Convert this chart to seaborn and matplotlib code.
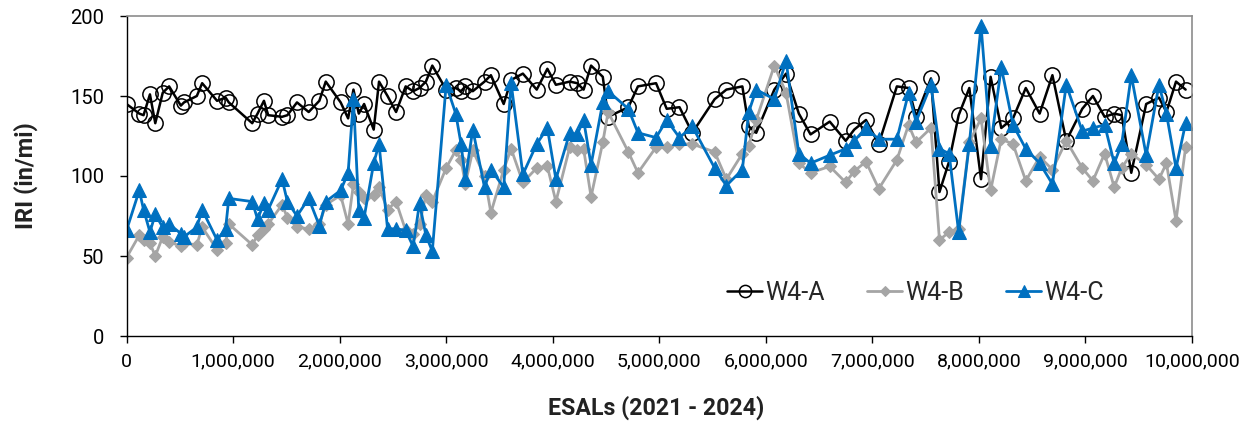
import numpy as np
import pandas as pd
import matplotlib
matplotlib.use("Agg")
import matplotlib.pyplot as plt
from matplotlib.ticker import FuncFormatter, MultipleLocator
import seaborn as sns

# ESALs in millions (survey points)
esals_m = [0, 0.12, 0.16, 0.22, 0.27, 0.34, 0.40, 0.51, 0.54, 0.66, 0.71, 0.85, 0.93, 0.96,
           1.18, 1.23, 1.29, 1.33, 1.46, 1.51,
           1.60, 1.71, 1.81, 1.87, 2.01, 2.08, 2.13, 2.18, 2.23, 2.32, 2.37, 2.45, 2.53, 2.62,
           2.69, 2.75, 2.81, 2.87, 3.00, 3.09, 3.14, 3.18,
           3.25, 3.36, 3.42, 3.54, 3.61, 3.72, 3.85, 3.95, 4.03, 4.16, 4.23, 4.29, 4.36, 4.47,
           4.52, 4.71, 4.80,
           4.97, 5.07, 5.19, 5.31, 5.52, 5.63, 5.78, 5.84, 5.91, 6.08, 6.19, 6.31, 6.42, 6.60,
           6.75, 6.83, 6.94, 7.06, 7.23, 7.34, 7.41, 7.55, 7.63, 7.72, 7.81, 7.91, 8.02, 8.11, 8.21,
           8.32, 8.44, 8.57, 8.69, 8.82, 8.97, 9.07, 9.18, 9.27, 9.34, 9.43, 9.57, 9.69, 9.76,
           9.85, 9.94]

w4_a = [145, 139, 138, 151, 133, 152, 156, 144, 146, 150, 158, 147, 149, 146,
        133, 139, 147, 138, 137, 138,
        146, 140, 147, 159, 146, 136, 154, 139, 145, 129, 159, 150, 140, 156,
        153, 155, 159, 169, 154, 155, 153, 156,
        153, 159, 163, 145, 160, 164, 154, 167, 157, 159, 158, 154, 169, 162,
        137, 143, 156,
        158, 142, 143, 127, 148, 154, 156, 131, 127, 154, 164, 139, 126, 134,
        122, 129, 135, 120, 156, 155, 137, 161, 90, 109, 138, 155, 98, 162, 130,
        136, 155, 139, 163, 122, 142, 150, 137, 139, 138, 102, 145, 149, 140,
        159, 154]

w4_b = [49, 63, 60, 58, 50, 62, 59, 56, 58, 57, 68, 54, 58, 70,
        57, 63, 67, 70, 82, 74,
        68, 67, 70, 82, 88, 70, 95, 90, 86, 88, 93, 79, 84, 66,
        64, 70, 88, 84, 105, 116, 110, 95,
        116, 100, 77, 104, 117, 96, 105, 106, 84, 118, 116, 117, 87, 121,
        140, 115, 102,
        118, 118, 120, 120, 115, 98, 114, 119, 135, 169, 152, 108, 102, 106,
        96, 103, 109, 92, 110, 132, 121, 130, 60, 65, 67, 121, 136, 91, 123,
        120, 97, 112, 104, 122, 105, 97, 114, 93, 105, 114, 107, 98, 108,
        72, 118]

w4_c = [66, 91, 79, 65, 76, 68, 70, 64, 62, 68, 79, 60, 67, 86,
        84, 73, 83, 79, 98, 84,
        75, 86, 69, 84, 91, 102, 148, 79, 74, 108, 120, 67, 67, 66,
        56, 83, 63, 53, 157, 139, 120, 98,
        129, 93, 104, 93, 158, 101, 120, 130, 98, 127, 126, 135, 107, 146,
        153, 142, 127,
        124, 135, 124, 131, 105, 94, 104, 140, 154, 148, 172, 114, 108, 113,
        117, 122, 130, 123, 123, 152, 134, 157, 117, 114, 65, 120, 194, 119, 168,
        132, 117, 108, 95, 157, 128, 130, 132, 108, 120, 163, 113, 157, 139,
        105, 133]

series_names = ["W4-A", "W4-B", "W4-C"]
y_ticks = [0, 50, 100, 150, 200]
x_label = "ESALs (2021 - 2024)"
y_label = "IRI (in/mi)"

esals = np.array(esals_m) * 1_000_000

sns.set_theme(style="white")
plt.rcParams["font.family"] = ["Roboto", "DejaVu Sans"]

fig = plt.figure(figsize=(12.5, 4.25), dpi=100)
ax = fig.add_axes([126.5 / 1250, 1 - 336 / 425, (1192 - 126.5) / 1250, (336 - 16) / 425])

styles = {
    "W4-A": dict(color="black", marker="o", markersize=11, markerfacecolor="none",
                 markeredgecolor="black", markeredgewidth=1.1, linewidth=1.8),
    "W4-B": dict(color="#A5A5A5", marker="D", markersize=6.5, markerfacecolor="#A5A5A5",
                 markeredgecolor="#A5A5A5", linewidth=2.0),
    "W4-C": dict(color="#0070C0", marker="^", markersize=10, markerfacecolor="#0070C0",
                 markeredgecolor="#0070C0", linewidth=2.0),
}
values = {"W4-A": w4_a, "W4-B": w4_b, "W4-C": w4_c}

for name in series_names:
    sns.lineplot(x=esals, y=values[name], ax=ax, sort=False, estimator=None,
                 label=name, **styles[name])

ax.set_xlim(0, 10_000_000)
ax.set_ylim(0, 200)
ax.xaxis.set_major_locator(MultipleLocator(1_000_000))
ax.xaxis.set_major_formatter(FuncFormatter(lambda v, p: f"{v:,.0f}"))
ax.set_yticks(y_ticks)

for side in ["top", "right"]:
    ax.spines[side].set_color("#8C8C8C")
    ax.spines[side].set_linewidth(1.2)
for side in ["left", "bottom"]:
    ax.spines[side].set_color("black")
    ax.spines[side].set_linewidth(1.0)

ax.tick_params(axis="x", which="major", direction="out", length=5, width=1,
               color="black", bottom=True, labelsize=14, pad=7, labelcolor="black")
ax.tick_params(axis="y", which="major", direction="out", length=5, width=1,
               color="black", left=True, labelsize=14.5, pad=11, labelcolor="black")

ax.set_xlabel(x_label, fontsize=16.7, fontweight="bold", color="#222222")
ax.set_ylabel(y_label, fontsize=17, fontweight="bold", color="#222222")
ax.xaxis.set_label_coords(0.4972, -0.185)
ax.yaxis.set_label_coords(-0.083, 0.5)

leg = ax.legend(loc="center left", bbox_to_anchor=(727 / 1250, 1 - 293 / 425),
                bbox_transform=fig.transFigure, ncol=3, frameon=False, fontsize=18,
                handlelength=1.4, handletextpad=0.12, columnspacing=1.7,
                borderpad=0, borderaxespad=0, markerscale=0.8)

ax.grid(False)
fig.savefig("out.png", dpi=100)
